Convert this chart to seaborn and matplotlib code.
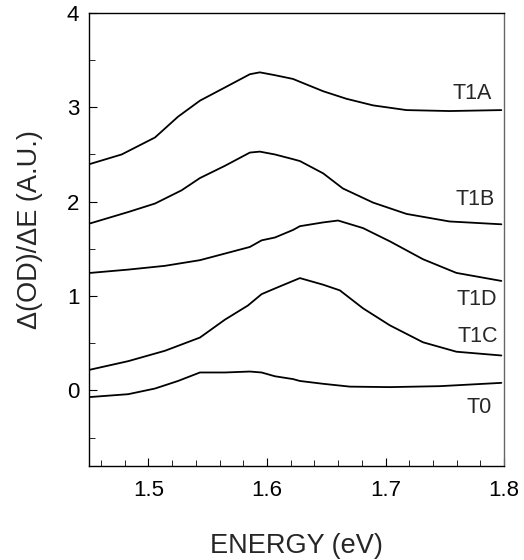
import numpy as np
import pandas as pd
import matplotlib
matplotlib.use("Agg")
import matplotlib.pyplot as plt
import seaborn as sns
from matplotlib.ticker import MultipleLocator

# ── data ──
t1a_x = [1.451, 1.4775, 1.5056, 1.525, 1.5435, 1.5646, 1.5856, 1.594, 1.6067, 1.622,
         1.6278, 1.6474, 1.667, 1.6895, 1.7177, 1.754, 1.7977]
t1a_y = [2.40, 2.50, 2.68, 2.90, 3.07, 3.21, 3.35, 3.37, 3.34, 3.30,
         3.27, 3.17, 3.09, 3.02, 2.97, 2.96, 2.97]

t1b_x = [1.451, 1.483, 1.5056, 1.528, 1.5435, 1.5646, 1.5856, 1.594, 1.6067, 1.622,
         1.6278, 1.6474, 1.664, 1.6895, 1.7177, 1.754, 1.7977]
t1b_y = [1.77, 1.89, 1.98, 2.12, 2.25, 2.38, 2.52, 2.53, 2.50, 2.45,
         2.43, 2.30, 2.14, 1.99, 1.87, 1.79, 1.76]

t1d_x = [1.451, 1.483, 1.514, 1.5435, 1.5646, 1.5856, 1.5955, 1.6067, 1.622, 1.6278,
         1.6474, 1.660, 1.681, 1.7036, 1.7316, 1.7598, 1.7977]
t1d_y = [1.245, 1.28, 1.32, 1.38, 1.45, 1.52, 1.59, 1.62, 1.70, 1.74,
         1.78, 1.80, 1.72, 1.58, 1.39, 1.245, 1.16]

t1c_x = [1.451, 1.483, 1.514, 1.5435, 1.5646, 1.584, 1.5955, 1.6067, 1.622, 1.6278,
         1.6474, 1.6615, 1.681, 1.7036, 1.7316, 1.7598, 1.7977]
t1c_y = [0.22, 0.31, 0.42, 0.56, 0.75, 0.90, 1.02, 1.08, 1.16, 1.19,
         1.12, 1.06, 0.87, 0.69, 0.51, 0.41, 0.37]

t0_x = [1.451, 1.483, 1.5056, 1.525, 1.5435, 1.5646, 1.5856, 1.5955, 1.6067, 1.622,
        1.6278, 1.6474, 1.670, 1.7036, 1.7457, 1.7977]
t0_y = [-0.07, -0.04, 0.02, 0.10, 0.19, 0.19, 0.20, 0.19, 0.15, 0.12,
        0.10, 0.07, 0.04, 0.035, 0.045, 0.08]

labels = ["T1A", "T1B", "T1D", "T1C", "T0"]
label_x = [1.7895, 1.792, 1.7937, 1.795, 1.7895]
label_y = [3.15, 2.02, 0.96, 0.57, -0.18]

series = [(t1a_x, t1a_y), (t1b_x, t1b_y), (t1d_x, t1d_y), (t1c_x, t1c_y), (t0_x, t0_y)]

sns.set_style("ticks")
plt.rcParams['font.family'] = ['Liberation Sans', 'DejaVu Sans']

fig = plt.figure(figsize=(5.24, 5.6), dpi=100)
ax = fig.add_axes([0.170, 0.168, 0.792, 0.809])

for xs, ys in series:
    df = pd.DataFrame({"x": xs, "y": ys})
    sns.lineplot(data=df, x="x", y="y", ax=ax, color="black", lw=1.3,
                 estimator=None, sort=True)

for name, lx, ly in zip(labels, label_x, label_y):
    ax.text(lx, ly, name, ha="right", va="center", fontsize=15.5)

ax.set_xlim(1.45, 1.8)
ax.set_ylim(-0.8, 4)
ax.xaxis.set_major_locator(MultipleLocator(0.1))
ax.xaxis.set_minor_locator(MultipleLocator(0.02))
ax.yaxis.set_major_locator(MultipleLocator(1))
ax.yaxis.set_minor_locator(MultipleLocator(0.5))
ax.tick_params(which="both", direction="in", labelsize=16, colors="black")
ax.tick_params(which="major", length=6, pad=10)
ax.tick_params(which="minor", length=4)
ax.tick_params(axis="y", which="major", pad=7)

ax.set_xlabel("ENERGY (eV)", fontsize=19.5, labelpad=23)
ax.set_ylabel("Δ(OD)/ΔE (A.U.)", fontsize=19.5)
ax.yaxis.set_label_coords(-0.112, 0.522)

for s in ax.spines.values():
    s.set_visible(True)
    s.set_color("black")
    s.set_linewidth(1.0)
ax.spines["right"].set_color("#666666")

fig.savefig("out.png", dpi=100)
